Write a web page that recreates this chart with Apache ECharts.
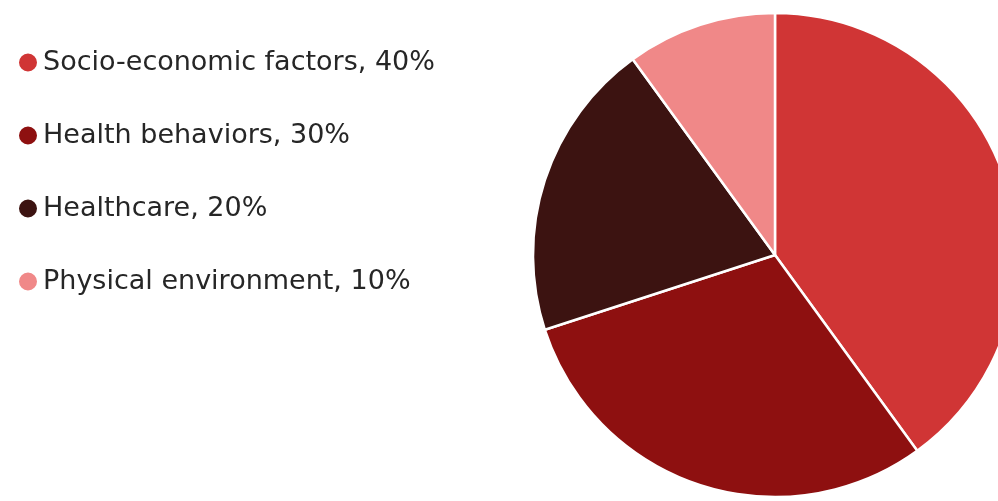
<!DOCTYPE html>
<html><head><meta charset="utf-8">
<script src="https://cdn.jsdelivr.net/npm/echarts@6/dist/echarts.min.js"></script>
<style>html,body{margin:0;padding:0;background:#fff}#c{width:998px;height:501px}</style>
</head><body><div id="c"></div>
<script>
const categories = ['Socio-economic factors', 'Health behaviors', 'Healthcare', 'Physical environment'];
const values = [40, 30, 20, 10];
const colors = ['#D03535', '#8E1010', '#3C1311', '#F08888'];

const chart = echarts.init(document.getElementById('c'));
const valMap = {};
categories.forEach((c, i) => valMap[c] = values[i]);
chart.setOption({
  animation: false,
  color: colors,
  legend: {
    orient: 'vertical',
    left: 12,
    top: 44,
    icon: 'circle',
    itemWidth: 20,
    itemHeight: 20,
    itemGap: 46,
    selectedMode: false,
    formatter: n => n + ', ' + valMap[n] + '%',
    textStyle: { fontFamily: 'DejaVu Sans', fontSize: 27, color: '#262626', lineHeight: 24, padding: [0, 0, 0, 0] }
  },
  series: [{
    type: 'pie',
    center: [775, 255],
    radius: 242,
    startAngle: 90,
    clockwise: true,
    label: { show: false },
    labelLine: { show: false },
    itemStyle: { borderColor: '#fff', borderWidth: 2.5 },
    emphasis: { disabled: true },
    data: categories.map((c, i) => ({ name: c, value: values[i] }))
  }]
});
</script></body></html>
